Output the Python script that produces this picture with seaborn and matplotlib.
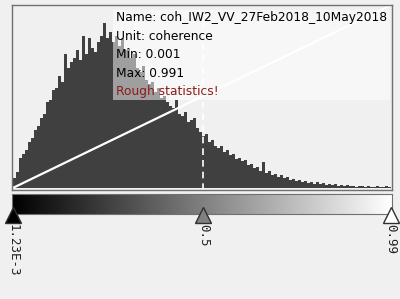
import numpy as np
import pandas as pd
import seaborn as sns
import matplotlib.pyplot as plt
from matplotlib.patches import Rectangle

# band statistics (coherence histogram, rough)
band_min = 0.00123
band_max = 0.991
counts = [10, 16, 30, 34, 38, 46, 50, 58, 62, 70,
          74, 86, 88, 98, 100, 112, 106, 134, 120, 126,
          130, 138, 128, 152, 134, 150, 140, 136, 146, 152,
          165, 150, 156, 146, 152, 142, 150, 138, 140, 130,
          134, 120, 116, 122, 108, 104, 106, 96, 100, 90,
          92, 86, 82, 80, 88, 74, 72, 76, 66, 68,
          70, 60, 56, 52, 54, 46, 48, 42, 40, 42,
          36, 38, 33, 34, 29, 30, 27, 28, 23, 24,
          20, 21, 17, 26, 15, 17, 13, 14, 11, 13,
          10, 11, 8, 9, 7, 8, 6, 7, 5, 6,
          4, 6, 4, 5, 3, 4, 3, 4, 2, 3,
          2, 3, 2, 2, 1, 2, 2, 1, 2, 1,
          1, 2, 1, 1, 2, 1]

info_lines = ["Name: coh_IW2_VV_27Feb2018_10May2018", "Unit: coherence",
              "Min: 0.001", "Max: 0.991", "Rough statistics!"]
info_colors = ["black", "black", "black", "black", "#8b1a1a"]

slider_values = [band_min, 0.5, band_max]
slider_colors = ["black", "#808080", "white"]
slider_labels = ["1.23E-3", "0.5", "0.99"]

sns.set_style("white")
plt.rcParams["font.family"] = ["DejaVu Sans"]

fig = plt.figure(figsize=(4, 2.99), dpi=100)
fig.patch.set_facecolor("#f0f0f0")

W, H = 400, 299
def px_axes(x0, y0, x1, y1):
    return fig.add_axes([x0 / W, 1 - y1 / H, (x1 - x0) / W, (y1 - y0) / H])

# histogram panel
ax = px_axes(12, 5, 392, 190)
edges = np.linspace(band_min, band_max, len(counts) + 1)
hist_df = pd.DataFrame({"value": (edges[:-1] + edges[1:]) / 2, "count": counts})
sns.histplot(data=hist_df, x="value", weights="count", bins=len(counts),
             binrange=(band_min, band_max), color="#404040", alpha=1,
             linewidth=0, ax=ax)
ax.set_facecolor("#f0f0f0")
ax.set_xlim(band_min - 0.002, band_max + 0.002)
ax.set_ylim(-2, 183)
ax.plot([band_min, band_max], [0, 183], color="white", lw=1.6)
ax.axvline(0.5, ymax=0.95, color="white", lw=1.2, ls=(0, (4, 3)))
ax.set_xticks([])
ax.set_yticks([])
ax.set_xlabel("")
ax.set_ylabel("")
for s in ax.spines.values():
    s.set_color("#707070")
    s.set_linewidth(1)

# info box
box = Rectangle((101 / 380, 90 / 185), 277 / 380, 90 / 185, transform=ax.transAxes,
                facecolor="white", alpha=0.5, edgecolor="none")
ax.add_patch(box)
for i, (line, col) in enumerate(zip(info_lines, info_colors)):
    ax.text(104 / 380, (185 - 13 - i * 18.5) / 185, line, transform=ax.transAxes,
            fontsize=8.8, color=col, va="center", ha="left")

# gradient bar
gax = px_axes(12, 194, 392, 214)
grad = np.linspace(0, 1, 256).reshape(1, -1)
gax.imshow(grad, cmap="gray", aspect="auto", extent=[band_min, band_max, 0, 1])
gax.set_xticks([])
gax.set_yticks([])
for s in gax.spines.values():
    s.set_color("#707070")

# slider markers and labels
sax = px_axes(12, 206, 392, 290)
sax.set_xlim(band_min - 0.002, band_max + 0.002)
sax.set_ylim(84, 0)
sax.axis("off")
for v, c, lab in zip(slider_values, slider_colors, slider_labels):
    sax.plot(v, 9, marker="^", markersize=11, markerfacecolor=c,
             markeredgecolor="#303030", markeredgewidth=1, clip_on=False)
    sax.text(v, 18, lab, rotation=270, ha="center", va="top", fontsize=9,
             family="DejaVu Sans Mono", color="#202020", clip_on=False)

plt.savefig("out.png", dpi=100, facecolor=fig.get_facecolor())
